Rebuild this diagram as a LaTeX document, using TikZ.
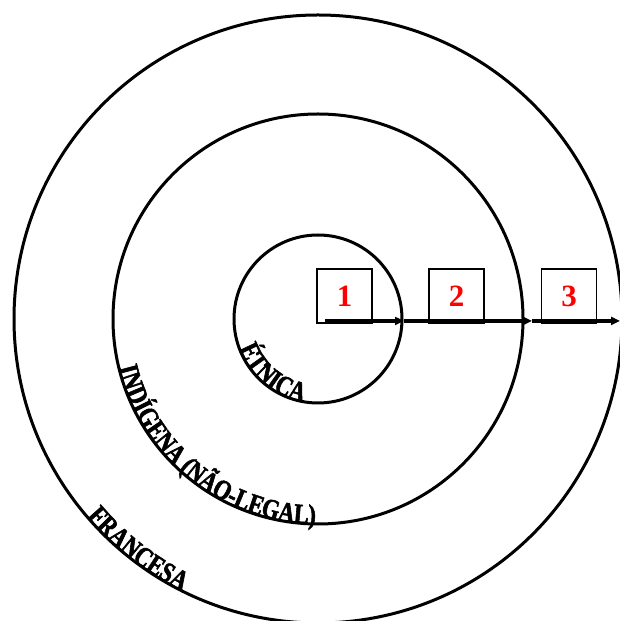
\documentclass[tikz,border=0pt]{standalone}
\usepackage{fontspec}
\setmainfont{Liberation Serif}
\newfontfamily\rtfamily[FakeStretch=0.8,FakeBold=2]{Liberation Serif Bold}
\usetikzlibrary{decorations.text,arrows.meta}
\newcommand\rtfont{\rtfamily\fontsize{28}{30}\selectfont}
\begin{document}
\begin{tikzpicture}[x=1pt,y=1pt,
  ring/.style={draw,line width=3pt},
  numbox/.style={draw,line width=1.5pt,minimum width=55pt,minimum height=54pt,inner sep=0pt,
    text=red,font=\bfseries\fontsize{31}{31}\selectfont},
  flow/.style={line width=3.2pt,-{Triangle[length=9pt,width=8pt]}},
  ringtext/.style={decorate,decoration={text along path,text align=center,raise=0pt,text={#1}}}]
\useasboundingbox (0,0) rectangle (620,621);
\coordinate (c) at (318,302);
\draw[ring] (c) circle[radius=84];
\draw[ring] (c) circle[radius=205];
\draw[ring] (c) circle[radius=304];
\path[ringtext={|\rtfont|ÉTNICA}] (c) ++(195:84) arc[start angle=195,end angle=265,radius=84];
\path[ringtext={|\rtfont|INDÍGENA (NÃO-LEGAL)}] (c) ++(186:205) arc[start angle=186,end angle=277,radius=205];
\path[ringtext={|\rtfont|FRANCESA}] (c) ++(212:304) arc[start angle=212,end angle=252,radius=304];
\node[numbox] (b1) at (344.5,325) {\raisebox{-4pt}{1}};
\node[numbox] (b2) at (456.5,325) {\raisebox{-4pt}{2}};
\node[numbox] (b3) at (569,325) {\raisebox{-4pt}{3}};
\coordinate (a0) at (325,300);
\coordinate (a1) at (404,300);
\coordinate (a2) at (532,300);
\coordinate (a3) at (620,300);
\draw[flow] (a0) -- (a1);
\draw[flow] (a1) -- (a2);
\draw[flow] (a2) -- (a3);
\end{tikzpicture}
\end{document}
